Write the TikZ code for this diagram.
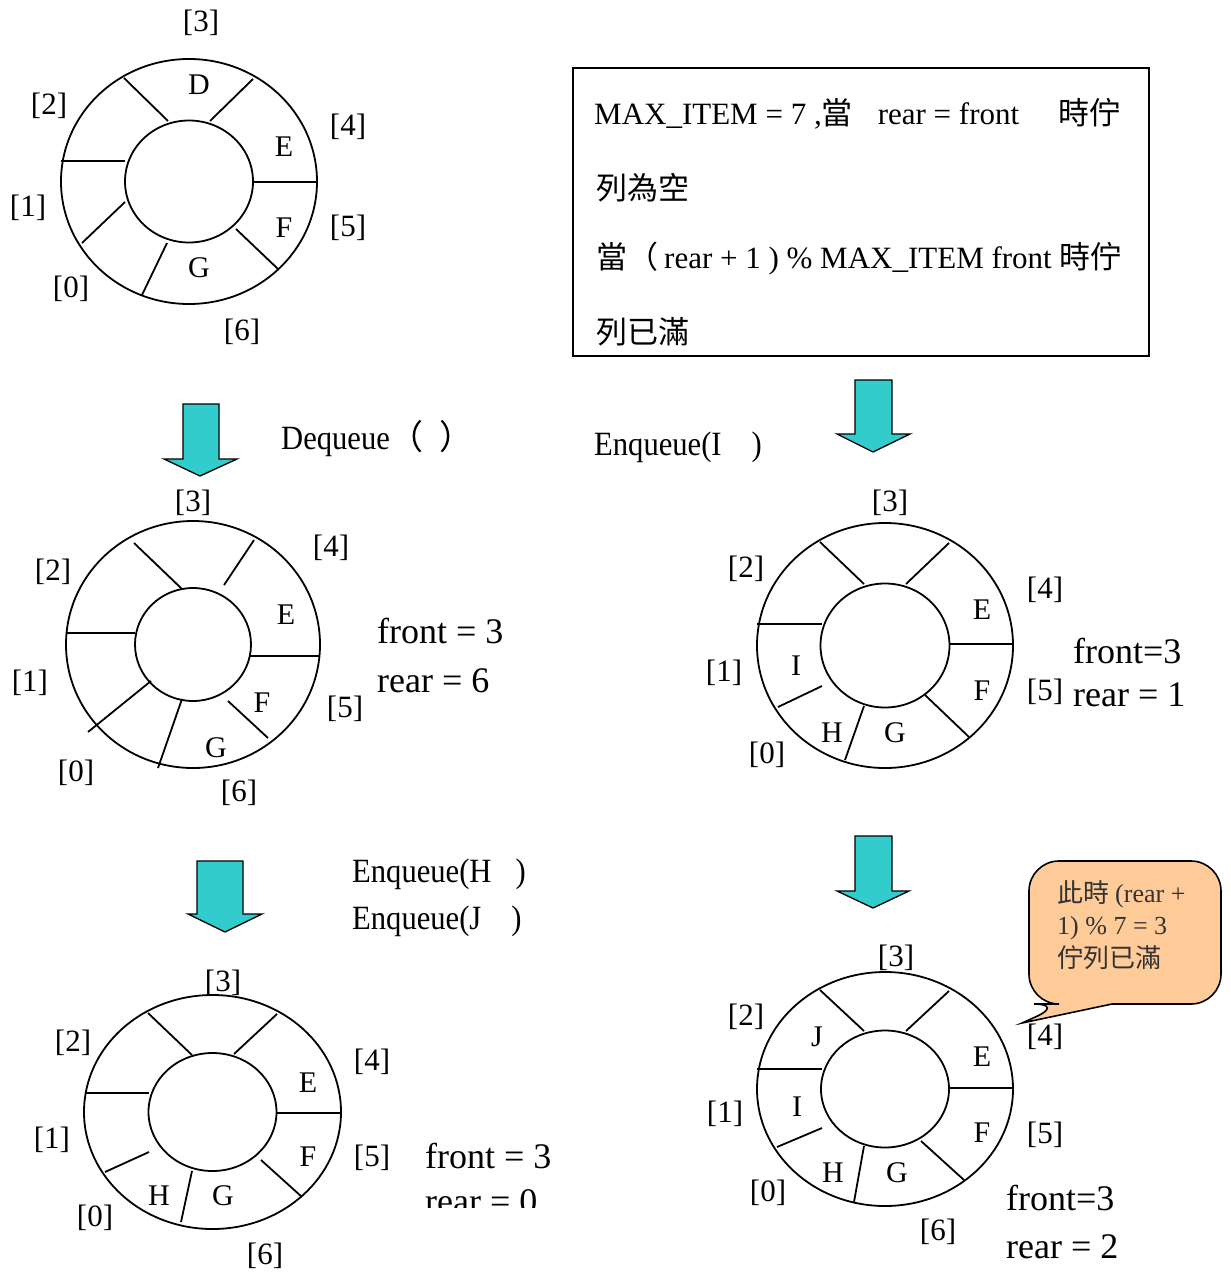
\documentclass[tikz,border=0pt]{standalone}
\usepackage{fontspec}
\setmainfont{Liberation Serif}
\newfontfamily\cjk{Noto Sans CJK TC}
\newfontfamily\narrowfont{Liberation Serif}[FakeStretch=0.9]
\definecolor{teal}{RGB}{51,204,204}
\definecolor{peach}{RGB}{255,204,153}
\tikzset{
  ringline/.style={line width=1.8pt},
  idx/.style={font=\fontsize{31}{31}\selectfont, inner sep=0pt},
  cell/.style={font=\fontsize{30}{30}\selectfont, inner sep=0pt},
  state/.style={font=\fontsize{36}{36}\selectfont, inner sep=0pt, anchor=base west},
  optext/.style={font=\narrowfont\fontsize{34}{34}\selectfont, inner sep=0pt, anchor=base west},
  boxtext/.style={font=\fontsize{31}{31}\selectfont, inner sep=0pt},
  blockarr/.style={fill=teal, draw=black, line width=1.3pt, line join=miter},
  notetext/.style={font=\fontsize{26}{26}\selectfont, inner sep=0pt, text=black!80}
}
\newcommand\qring[6]{%
  \draw[ringline] (#1,#2) ellipse [x radius=#3, y radius=#4];
  \draw[ringline] (#1,#2) ellipse [x radius=#5, y radius=#6];}
\newcommand\blockarrow[8]{%
  \filldraw[blockarr] (#1,#3) -- (#2,#3) -- (#2,#4) -- (#6,#4) -- (#7,#8) -- (#5,#4) -- (#1,#4) -- cycle;}
\begin{document}
\begin{tikzpicture}[x=1pt,y=-1pt]
\useasboundingbox[fill=white] (0,0) rectangle (1231,1272);

% ---------- Ring 1 ----------
\qring{189}{181.5}{128}{122.5}{64}{61}
\draw[ringline] (124,78) -- (168,121);
\draw[ringline] (253,79) -- (210,121);
\draw[ringline] (61,161) -- (125,161);
\draw[ringline] (253,182) -- (317,182);
\draw[ringline] (125,202) -- (82,243);
\draw[ringline] (167,243) -- (142,295);
\draw[ringline] (236,229) -- (278,269);
\node[cell] (r1D) at (199,85) {D};
\node[cell] (r1E) at (284,147) {E};
\node[cell] (r1F) at (284,228) {F};
\node[cell] (r1G) at (199,268) {G};
\node[idx] (r1i3) at (201,23) {[3]};
\node[idx] (r1i2) at (49,106) {[2]};
\node[idx] (r1i4) at (348,127) {[4]};
\node[idx] (r1i1) at (28,208) {[1]};
\node[idx] (r1i5) at (348,228) {[5]};
\node[idx] (r1i0) at (71,289) {[0]};
\node[idx] (r1i6) at (242,332) {[6]};

% ---------- Info box ----------
\draw[line width=1.8pt] (573,68) rectangle (1149,356);
\node[boxtext, anchor=base west] (bl1) at (594,124) {MAX\_ITEM = 7 ,{\cjk 當}\hspace{25pt}rear = front\hspace{39pt}{\cjk 時佇}};
\node[boxtext, anchor=west] (bl2) at (596,188) {\cjk 列為空};
\node[boxtext, anchor=base west] (bl3) at (596,268) {{\cjk 當（}\hspace{6pt}rear + 1 ) \% MAX\_ITEM front {\cjk 時佇}};
\node[boxtext, anchor=west] (bl4) at (596,332) {\cjk 列已滿};

% ---------- Arrow 1 + Dequeue ----------
\blockarrow{183}{219}{404}{459}{164}{237}{200}{476}
\node[optext] (op1) at (281,449) {Dequeue{\cjk （}\hspace{16pt}{\cjk ）}};

% ---------- Ring 2 ----------
\qring{193}{644.5}{127}{123.5}{58}{56.5}
\draw[ringline] (134,543) -- (182,589);
\draw[ringline] (254,540) -- (224,585);
\draw[ringline] (67,633) -- (135,633);
\draw[ringline] (250,656) -- (319,656);
\draw[ringline] (151,681) -- (88,732);
\draw[ringline] (182,699) -- (158,768);
\draw[ringline] (228,701) -- (268,738);
\node[cell] (r2E) at (286,615) {E};
\node[cell] (r2F) at (262,703) {F};
\node[cell] (r2G) at (216,748) {G};
\node[idx] (r2i3) at (193,503) {[3]};
\node[idx] (r2i4) at (331,548) {[4]};
\node[idx] (r2i2) at (53,572) {[2]};
\node[idx] (r2i1) at (30,683) {[1]};
\node[idx] (r2i5) at (345,709) {[5]};
\node[idx] (r2i0) at (76,773) {[0]};
\node[idx] (r2i6) at (239,793) {[6]};
\node[state] (r2f) at (377,643) {front = 3};
\node[state] (r2r) at (377,692) {rear = 6};

% ---------- Arrow 2 + Enqueue(I) ----------
\blockarrow{855}{892}{380}{434}{837}{910}{873}{452}
\node[optext] (op2) at (594,455) {Enqueue(I\hspace{30pt})};

% ---------- Ring 3 ----------
\qring{885}{645.5}{128}{122.5}{64.5}{62}
\draw[ringline] (820,542) -- (864,584);
\draw[ringline] (949,543) -- (906,584);
\draw[ringline] (757,624) -- (822,624);
\draw[ringline] (950,644) -- (1013,644);
\draw[ringline] (822,686) -- (778,707);
\draw[ringline] (864,706) -- (845,760);
\draw[ringline] (925,695) -- (969,737);
\node[cell] (r3I) at (796,666) {I};
\node[cell] (r3H) at (832,733) {H};
\node[cell] (r3G) at (895,733) {G};
\node[cell] (r3E) at (982,610) {E};
\node[cell] (r3F) at (982,691) {F};
\node[idx] (r3i3) at (890,503) {[3]};
\node[idx] (r3i2) at (746,569) {[2]};
\node[idx] (r3i1) at (724,673) {[1]};
\node[idx] (r3i0) at (767,755) {[0]};
\node[idx] (r3i4) at (1045,590) {[4]};
\node[idx] (r3i5) at (1045,692) {[5]};
\node[state] (r3f) at (1073,663) {front=3};
\node[state] (r3r) at (1073,706) {rear = 1};

% ---------- Arrow 3 + Enqueue(H),(J) ----------
\blockarrow{197}{243}{861}{914}{188}{262}{225}{932}
\node[optext] (op3) at (352,882) {Enqueue(H\hspace{24pt})};
\node[optext] (op4) at (352,929) {Enqueue(J\hspace{30pt})};

% ---------- Ring 4 ----------
\qring{212.5}{1112}{128.5}{117}{64}{59}
\draw[ringline] (148,1013) -- (192,1055);
\draw[ringline] (277,1014) -- (234,1054);
\draw[ringline] (85,1093) -- (149,1093);
\draw[ringline] (277,1113) -- (341,1113);
\draw[ringline] (149,1152) -- (105,1172);
\draw[ringline] (192,1171) -- (181,1222);
\draw[ringline] (261,1160) -- (302,1197);
\node[cell] (r4E) at (308,1083) {E};
\node[cell] (r4F) at (308,1157) {F};
\node[cell] (r4H) at (159,1196) {H};
\node[cell] (r4G) at (223,1196) {G};
\node[idx] (r4i3) at (223,983) {[3]};
\node[idx] (r4i2) at (73,1043) {[2]};
\node[idx] (r4i1) at (52,1140) {[1]};
\node[idx] (r4i0) at (95,1218) {[0]};
\node[idx] (r4i4) at (372,1062) {[4]};
\node[idx] (r4i5) at (372,1158) {[5]};
\node[idx] (r4i6) at (265,1256) {[6]};
\node[state] (r4f) at (425,1168) {front = 3};
\begin{scope}
  \clip (400,1170) rectangle (600,1207);
  \node[state] (r4r) at (425,1213) {rear = 0};
\end{scope}

% ---------- Arrow 4 ----------
\blockarrow{855}{892}{836}{891}{837}{909}{873}{908}

% ---------- Callout ----------
\coordinate (tipc) at (1022,1023);
\draw[fill=peach, line width=1.6pt] (1112,1004) [rounded corners=30pt] -- (1221,1004) -- (1221,861) -- (1029,861) -- (1029,1004) -- (1064,1004) [sharp corners] -- (tipc) -- cycle;
\node[notetext, anchor=base west] (n1) at (1057,902) {{\cjk 此時}\hspace{6pt}(rear +};
\node[notetext, anchor=base west] (n2) at (1057,934) {1) \% 7 = 3};
\node[notetext, anchor=west] (n3) at (1057,958) {\cjk 佇列已滿};

% ---------- Ring 5 ----------
\qring{885}{1089}{128}{117}{64}{58.5}
\draw[ringline] (820,990) -- (864,1031);
\draw[ringline] (949,991) -- (906,1031);
\draw[ringline] (757,1069) -- (822,1069);
\draw[ringline] (949,1088) -- (1013,1088);
\draw[ringline] (822,1128) -- (777,1147);
\draw[ringline] (864,1146) -- (854,1202);
\draw[ringline] (921,1141) -- (964,1180);
\node[cell] (r5J) at (817,1037) {J};
\node[cell] (r5I) at (797,1107) {I};
\node[cell] (r5H) at (833,1173) {H};
\node[cell] (r5G) at (897,1173) {G};
\node[cell] (r5E) at (982,1057) {E};
\node[cell] (r5F) at (982,1133) {F};
\node[idx] (r5i3) at (896,958) {[3]};
\node[idx] (r5i2) at (746,1017) {[2]};
\node[idx] (r5i1) at (725,1114) {[1]};
\node[idx] (r5i0) at (768,1193) {[0]};
\node[idx] (r5i4) at (1045,1037) {[4]};
\node[idx] (r5i5) at (1045,1135) {[5]};
\node[idx] (r5i6) at (938,1232) {[6]};
\node[state] (r5f) at (1006,1210) {front=3};
\node[state] (r5r) at (1006,1258) {rear = 2};
\end{tikzpicture}
\end{document}
